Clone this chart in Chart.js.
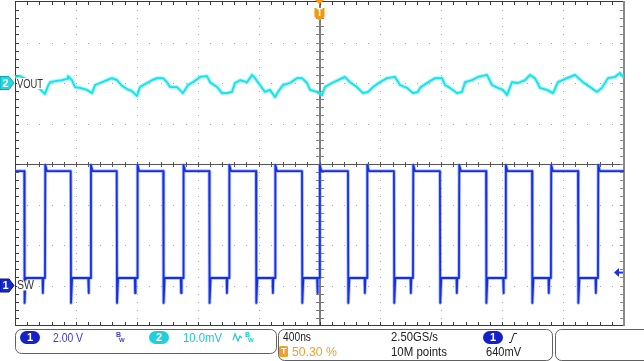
<!DOCTYPE html>
<html><head><meta charset="utf-8">
<script src="https://cdn.jsdelivr.net/npm/chart.js@4.4.1/dist/chart.umd.min.js"></script>
<style>html,body{margin:0;padding:0;background:#fff;overflow:hidden}#wrap{position:relative;width:644px;height:361px}canvas{display:block}</style>
</head><body><div id="wrap"><canvas id="c" width="644" height="361"></canvas></div>
<script>
// ---- data (read from the screen capture) ----
// horizontal: 400 ns/div, 10 divisions, trigger at 0
const timeTicksNs = [-2000,-1600,-1200,-800,-400,0,400,800,1200,1600,2000];
// vertical: 8 divisions
const divTicks = [-4,-3,-2,-1,0,1,2,3,4];

// CH1 "SW": 2.00 V/div, ground marker 3 div below centre
const ch1VoltsPerDiv = 2.0;
const ch1OffsetDiv = -3;
const swRiseNs = [-1803,-1503,-1197,-895,-594,-292,0,312,614,916,1222,1520,1829];
const swFallNs = [-1939,-1634,-1332,-1026,-724,-417,-115,187,489,791,1094,1396,1698];
const swHighV = 5.65;
const swLowV = 0.37;
const swOvershootV = 5.95;
const swUndershootV = -0.86;
const swDipV = -0.37;

// CH2 "VOUT": 10.0 mV/div, marker 2 div above centre
const ch2MvPerDiv = 10.0;
const ch2OffsetDiv = 2;
const voutTimeNs = [-2000,-1967,-1915,-1875,-1836,-1803,-1783,-1770,-1724,-1691,-1658,-1652,-1626,-1606,-1573,-1527,-1494,-1474,-1442,-1396,-1363,-1330,-1297,-1264,-1232,-1199,-1179,-1133,-1100,-1067,-1028,-1002,-982,-936,-897,-864,-831,-785,-739,-719,-673,-640,-608,-575,-555,-522,-476,-443,-424,-391,-358,-325,-292,-273,-240,-194,-148,-115,-82,-62,-16,16,36,82,122,167,200,246,286,319,351,397,443,496,529,575,614,647,660,706,759,805,824,857,903,936,956,1002,1041,1100,1133,1172,1205,1232,1264,1304,1350,1383,1415,1448,1494,1534,1566,1626,1678,1731,1777,1823,1855,1895,1941,1974,2000];
const voutMv = [1.5,1.7,0.7,-0.2,-1.5,-2.7,-0.7,0.2,0.5,0.7,1.0,1.7,0.7,-1.0,-1.2,-1.7,-2.5,-0.5,0,0.7,1.2,0.7,-0.7,-1.5,-2.0,-3.2,-1.0,0,0.7,1.2,1.2,0.2,-1.0,-1.0,-2.5,-0.5,0.2,1.5,1.7,0.2,-1.0,-2.5,-2.5,-2.2,0,0.7,0.2,2.0,1.2,-0.5,-2.2,-1.7,-3.5,-2.2,-0.5,0,1.2,1.2,0,-1.7,-2.2,-3.0,-1.0,0,0.7,1.5,0.2,-1.0,-2.5,-2.2,-1.0,0.2,1.2,1.5,-0.5,-1.2,-2.5,-2.2,-1.2,0,1.2,1.2,-0.5,-1.2,-2.5,-2.2,0.2,0.7,1.5,2.0,-0.5,-1.2,-1.7,-3.0,0.2,0,0.7,2.0,1.2,-1.2,-1.7,-2.5,0.2,1.2,2.0,0.2,-1.0,-2.2,-1.2,1.2,1.5,2.5,1.2];

const trigLevelV = 0.64;

// ---- build point tables ----
const ch1Div = v => ch1OffsetDiv + v / ch1VoltsPerDiv;
const ch2Div = mv => ch2OffsetDiv + mv / ch2MvPerDiv;

function buildSw(){
  const ev = [];
  swRiseNs.forEach(t => ev.push({t, r:true}));
  swFallNs.forEach(t => ev.push({t, r:false}));
  ev.sort((a,b) => a.t - b.t);
  const pts = [{x: timeTicksNs[0], y: ch1Div(swHighV)}];
  ev.forEach(e => {
    if (e.r) {
      pts.push({x:e.t-16, y:ch1Div(swLowV)}, {x:e.t-14, y:ch1Div(swDipV)}, {x:e.t-11, y:ch1Div(swLowV)},
               {x:e.t, y:ch1Div(swLowV)}, {x:e.t+2, y:ch1Div(swOvershootV)}, {x:e.t+12, y:ch1Div(swHighV)});
    } else {
      pts.push({x:e.t, y:ch1Div(swHighV)}, {x:e.t+2, y:ch1Div(swUndershootV)}, {x:e.t+9, y:ch1Div(swLowV)});
    }
  });
  pts.push({x: timeTicksNs[timeTicksNs.length-1], y: ch1Div(swHighV)});
  return pts;
}
const swPts = buildSw();
const voutPts = voutTimeNs.map((t,i) => ({x:t, y:ch2Div(voutMv[i])}));

// ---- helpers ----
function rr(ctx,x,y,w,h,r){ctx.beginPath();ctx.moveTo(x+r,y);ctx.arcTo(x+w,y,x+w,y+h,r);ctx.arcTo(x+w,y+h,x,y+h,r);ctx.arcTo(x,y+h,x,y,r);ctx.arcTo(x,y,x+w,y,r);ctx.closePath();}
const FONT = '"Liberation Sans", Arial, sans-serif';

const scopePlugin = {
  id:'scope',
  beforeDatasetsDraw(chart){
    const ctx = chart.ctx, a = chart.chartArea, xs = chart.scales.x, ys = chart.scales.y;
    ctx.save();
    // dotted graticule
    ctx.fillStyle = '#a4a4a4';
    timeTicksNs.forEach(t => {
      if (t === 0 || t === timeTicksNs[0] || t === timeTicksNs[timeTicksNs.length-1]) return;
      const x = Math.round(xs.getPixelForValue(t));
      for (let j=1;j<40;j++){ const y = Math.round(ys.getPixelForValue(-4 + j*0.2)); ctx.fillRect(x,y,1,1); }
    });
    divTicks.forEach(d => {
      if (d === 0 || d === -4 || d === 4) return;
      const y = Math.round(ys.getPixelForValue(d));
      for (let j=1;j<50;j++){ const x = Math.round(xs.getPixelForValue(-2000 + j*80)); ctx.fillRect(x,y,1,1); }
    });
    // centre lines with ticks
    const cx = xs.getPixelForValue(0), cy = ys.getPixelForValue(0);
    ctx.fillStyle = '#7c7c7c';
    ctx.fillRect(Math.round(cx)-1, a.top, 2, a.bottom-a.top);
    for (let j=1;j<40;j++){ const y = Math.round(ys.getPixelForValue(-4 + j*0.2)); ctx.fillRect(Math.round(cx)-4,y,8,1); }
    ctx.fillStyle = '#555';
    ctx.fillRect(a.left, Math.round(cy), a.right-a.left, 1);
    for (let j=1;j<50;j++){ const x = Math.round(xs.getPixelForValue(-2000 + j*80)); ctx.fillRect(x,Math.round(cy)-2,1,5); }
    // border with ticks
    ctx.fillStyle = '#3a3a3a';
    ctx.fillRect(a.left, a.top-1, a.right-a.left, 1);
    ctx.fillRect(a.left, a.top, 1, a.bottom-a.top);
    ctx.fillRect(a.left, a.bottom-1, a.right-a.left, 1);
    for (let j=1;j<50;j++){ const x = Math.round(xs.getPixelForValue(-2000 + j*80)); ctx.fillRect(x,a.top,1,3); ctx.fillRect(x,a.bottom-4,1,3); }
    for (let j=1;j<40;j++){ const y = Math.round(ys.getPixelForValue(-4 + j*0.2)); ctx.fillRect(a.left+1,y,3,1); }
    ctx.fillStyle = '#8a8a8a';
    ctx.fillRect(a.right-1, a.top-1, 2, a.bottom-a.top+1);
    for (let j=1;j<40;j++){ const y = Math.round(ys.getPixelForValue(-4 + j*0.2)); ctx.fillRect(a.right-4,y,3,1); }
    ctx.restore();
  },
  afterDatasetsDraw(chart){
    const ctx = chart.ctx, a = chart.chartArea, xs = chart.scales.x, ys = chart.scales.y;
    ctx.save();
    // channel labels
    const y2 = ys.getPixelForValue(ch2OffsetDiv), y1 = ys.getPixelForValue(ch1OffsetDiv);
    ctx.fillStyle = '#fff';
    ctx.fillRect(17, y2-5, 26, 11);
    ctx.fillRect(17, y1-5, 17, 10);
    ctx.fillStyle = '#333';
    ctx.font = '13px ' + FONT; ctx.textBaseline = 'middle';
    ctx.fillText('VOUT', 17, y2+1, 26);
    ctx.fillText('SW', 17, y1, 17);
    // left markers
    function marker(y, fill, stroke, txt){
      ctx.beginPath(); ctx.moveTo(0,y-6.5); ctx.lineTo(9,y-6.5); ctx.lineTo(14,y); ctx.lineTo(9,y+6.5); ctx.lineTo(0,y+6.5); ctx.closePath();
      ctx.fillStyle = fill; ctx.fill(); ctx.strokeStyle = stroke; ctx.lineWidth = 1; ctx.stroke();
      ctx.fillStyle = '#fff'; ctx.font = 'bold 11px ' + FONT; ctx.textAlign='center'; ctx.fillText(txt, 5.5, y+0.5); ctx.textAlign='left';
    }
    marker(y2, '#27d6de', '#0aa8b0', '2');
    marker(y1, '#1628d0', '#0a148a', '1');
    // trigger position marker
    const tx = xs.getPixelForValue(0);
    ctx.fillStyle = '#f39a0c';
    ctx.beginPath(); ctx.moveTo(tx-4.5,0); ctx.lineTo(tx+4.5,0); ctx.lineTo(tx,4.5); ctx.closePath(); ctx.fill();
    ctx.beginPath(); ctx.moveTo(tx-5,8); ctx.lineTo(tx+5,8); ctx.lineTo(tx+5,17); ctx.lineTo(tx,20.5); ctx.lineTo(tx-5,17); ctx.closePath(); ctx.fill();
    ctx.fillStyle = '#fff'; ctx.font = 'bold 10px ' + FONT; ctx.textAlign='center'; ctx.fillText('T', tx, 13.5); ctx.textAlign='left';
    // trigger level arrow
    const ty = ys.getPixelForValue(ch1Div(trigLevelV));
    ctx.fillStyle = '#1a30e6';
    ctx.beginPath(); ctx.moveTo(a.right-10, ty); ctx.lineTo(a.right-5, ty-4.5); ctx.lineTo(a.right-5, ty+4.5); ctx.closePath(); ctx.fill();
    ctx.fillRect(a.right-5, ty-1, 4, 2);
    ctx.restore();
  },
  afterDraw(chart){
    const ctx = chart.ctx;
    ctx.save();
    ctx.strokeStyle = '#606060'; ctx.lineWidth = 1;
    rr(ctx,15.5,329.5,261,24,6); ctx.stroke();
    rr(ctx,278.5,329.5,274,31,6); ctx.stroke();
    rr(ctx,555.5,329.5,100,31,6); ctx.stroke();
    ctx.textBaseline = 'middle';
    function pill(x,y,w,h,fill,txt){ rr(ctx,x,y,w,h,h/2); ctx.fillStyle = fill; ctx.fill(); ctx.fillStyle='#fff'; ctx.font='bold 11px '+FONT; ctx.textAlign='center'; ctx.fillText(txt,x+w/2,y+h/2+0.5); ctx.textAlign='left'; }
    function bw(x,col){ ctx.fillStyle=col; ctx.font='bold 7px '+FONT; ctx.fillText('B',x,335); ctx.font='bold 6px '+FONT; ctx.fillText('W',x+3,340.5); }
    pill(20,331,20,13,'#1420c8','1');
    ctx.font = '13px ' + FONT;
    ctx.fillStyle = '#3c3cdc'; ctx.fillText('2.00 V', 53, 338, 30);
    bw(116,'#3c3cdc');
    pill(149,331,20,13,'#1fd0da','2');
    ctx.font = '13px ' + FONT;
    ctx.fillStyle = '#1ec8d2'; ctx.fillText('10.0mV', 183, 338, 39);
    ctx.strokeStyle = '#1ec8d2'; ctx.lineWidth = 1.2;
    ctx.beginPath(); ctx.moveTo(233,340); ctx.lineTo(235,334); ctx.lineTo(238,341); ctx.lineTo(240,336); ctx.lineTo(242,338); ctx.stroke();
    bw(245,'#1ec8d2');
    ctx.font = '13px ' + FONT;
    ctx.fillStyle = '#222';
    ctx.fillText('400ns', 283, 337.5, 28);
    ctx.fillText('2.50GS/s', 391, 337.5, 47);
    ctx.fillText('10M points', 391, 352.5, 56);
    ctx.fillText('640mV', 486, 352.5, 35);
    pill(483,331,20,13,'#1420c8','1');
    ctx.strokeStyle = '#222'; ctx.lineWidth = 1;
    ctx.beginPath(); ctx.moveTo(509,342.5); ctx.lineTo(511,342.5); ctx.lineTo(514,333.5); ctx.lineTo(517,333.5); ctx.stroke();
    ctx.fillStyle = '#f0a030'; rr(ctx,279,346,9,11,1.5); ctx.fill();
    ctx.fillStyle = '#fff'; ctx.font='bold 9px '+FONT; ctx.fillText('T', 281, 352);
    ctx.fillStyle = '#f0a030'; ctx.font = '13px ' + FONT; ctx.fillText('50.30 %', 292, 352.5, 45);
    ctx.restore();
  }
};

const lineBase = { pointRadius:0, tension:0, borderJoinStyle:'round', borderCapStyle:'butt' };
new Chart(document.getElementById('c').getContext('2d'), {
  type: 'line',
  data: { datasets: [
    Object.assign({ label:'SW', data: swPts, borderColor:'#1430e4', borderWidth:1.8, order:1 }, lineBase),
    Object.assign({ label:'SW glow', data: swPts, borderColor:'rgba(110,128,255,0.55)', borderWidth:3.5, order:2 }, lineBase),
    Object.assign({ label:'VOUT', data: voutPts, borderColor:'#12e2ea', borderWidth:1.8, order:3 }, lineBase),
    Object.assign({ label:'VOUT glow', data: voutPts, borderColor:'rgba(90,235,240,0.5)', borderWidth:4, order:4 }, lineBase)
  ]},
  options: {
    responsive:false, animation:false, devicePixelRatio:1, events:[],
    layout:{ padding:{ left:15, right:20, top:2, bottom:35 } },
    plugins:{ legend:{display:false}, tooltip:{enabled:false} },
    scales:{
      x:{ type:'linear', min:timeTicksNs[0], max:timeTicksNs[timeTicksNs.length-1], display:false },
      y:{ type:'linear', min:divTicks[0], max:divTicks[divTicks.length-1], display:false }
    }
  },
  plugins:[scopePlugin]
});
</script></body></html>
